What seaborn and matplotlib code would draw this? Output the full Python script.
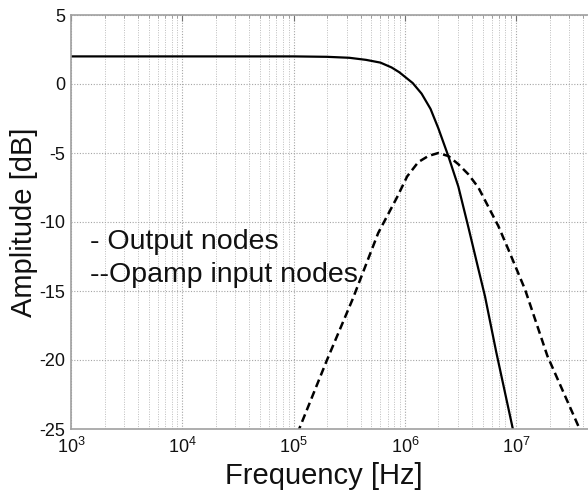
import numpy as np
import pandas as pd
import matplotlib
matplotlib.use("Agg")
import matplotlib.pyplot as plt
from matplotlib.ticker import LogLocator, FixedLocator
import seaborn as sns

# ---- data (log10 of frequency in Hz, amplitude in dB) ----
out_logf = [3.0, 5.0, 5.3, 5.5, 5.65, 5.78, 5.88, 5.95, 6.07, 6.15, 6.23,
            6.30, 6.39, 6.48, 6.57, 6.66, 6.72, 6.82, 6.97, 7.02]
out_db = [2.0, 2.0, 1.97, 1.9, 1.75, 1.55, 1.2, 0.85, 0.07, -0.7, -1.8,
          -3.2, -5.22, -7.43, -10.37, -13.4, -15.4, -19.4, -25.0, -27.0]

inp_logf = [4.95, 5.05, 5.30, 5.53, 5.76, 5.93, 6.02, 6.12, 6.21, 6.30, 6.39,
            6.48, 6.57, 6.66, 6.75, 6.84, 6.93, 7.08, 7.28, 7.57, 7.65]
inp_db = [-27.0, -25.0, -20.0, -15.6, -10.8, -8.2, -6.7, -5.66, -5.22, -5.0,
          -5.22, -5.81, -6.54, -7.5, -8.9, -10.3, -12.0, -14.9, -19.7, -25.0, -26.5]

y_ticks = [-25, -20, -15, -10, -5, 0, 5]
x_label = "Frequency [Hz]"
y_label = "Amplitude [dB]"
annot_lines = ["- Output nodes", "--Opamp input nodes"]

df_out = pd.DataFrame({"f": np.power(10.0, out_logf), "dB": out_db})
df_inp = pd.DataFrame({"f": np.power(10.0, inp_logf), "dB": inp_db})

sns.set_theme(style="white")
plt.rcParams["font.family"] = ["Liberation Sans", "DejaVu Sans"]
plt.rcParams["mathtext.fontset"] = "custom"
plt.rcParams["mathtext.rm"] = "Liberation Sans"
plt.rcParams["axes.unicode_minus"] = False

fig = plt.figure(figsize=(5.88, 4.96), dpi=100)
fig.patch.set_facecolor("white")
ax = fig.add_axes([71 / 588, 67 / 496, 517 / 588, 414 / 496])
ax.set_facecolor("white")

sns.lineplot(data=df_out, x="f", y="dB", ax=ax, color="black", lw=1.6,
             estimator=None, sort=False)
sns.lineplot(data=df_inp, x="f", y="dB", ax=ax, color="black", lw=1.8,
             estimator=None, sort=False, dashes=False)
ax.lines[-1].set_dashes((3.2, 1.8))

ax.set_xscale("log")
ax.set_xlim(1e3, 10 ** (3 + 517 / 111.3))
ax.set_ylim(-25, 5)
ax.yaxis.set_major_locator(FixedLocator(y_ticks))
ax.xaxis.set_major_locator(LogLocator(base=10, numticks=12))
ax.xaxis.set_minor_locator(LogLocator(base=10, subs=np.arange(2, 10), numticks=12))

ax.grid(True, which="major", axis="both", color="#a5a5a5", linestyle=(0, (1, 1.5)), lw=0.8)
ax.grid(True, which="minor", axis="x", color="#bdbdbd", linestyle=(0, (1, 1.5)), lw=0.7)

for s in ax.spines.values():
    s.set_color("#a0a0a0")
    s.set_linewidth(1.2)
ax.spines["right"].set_visible(False)

ax.tick_params(axis="both", which="major", direction="in", length=4, width=0.8,
               color="#707070", labelsize=13, labelcolor="#111111", pad=4)
ax.tick_params(axis="x", which="major", pad=6, top=True)
ax.tick_params(axis="x", which="minor", direction="in", length=2.5, width=0.6,
               color="#909090", top=True)

ax.set_xlabel(x_label, fontsize=21, color="#111111", va="center")
ax.xaxis.set_label_coords((324 - 71) / 517, (429 - 476) / 414)
ax.set_ylabel(y_label, fontsize=21, color="#111111", va="center")
ax.yaxis.set_label_coords(-(71 - 24) / 517, 0.5)

ax.text((90 - 71) / 517, (429 - 242) / 414, annot_lines[0], transform=ax.transAxes,
        fontsize=20.5, color="#111111", va="center", ha="left")
ax.text((90 - 71) / 517, (429 - 275) / 414, annot_lines[1], transform=ax.transAxes,
        fontsize=20.5, color="#111111", va="center", ha="left")

fig.savefig("out.png", dpi=100, facecolor="white")
